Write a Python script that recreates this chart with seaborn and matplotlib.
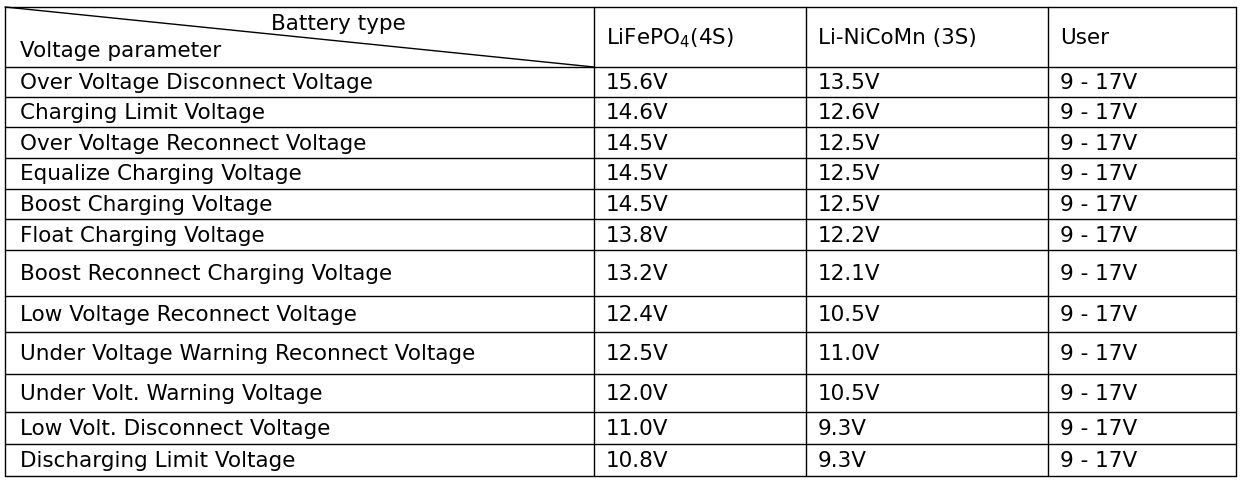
import matplotlib
matplotlib.use("Agg")
import matplotlib.pyplot as plt
import seaborn as sns

sns.set_theme(style="white")
plt.rcParams['font.family'] = ['DejaVu Sans']
plt.rcParams['text.color'] = 'black'

parameters = ["Over Voltage Disconnect Voltage", "Charging Limit Voltage",
              "Over Voltage Reconnect Voltage", "Equalize Charging Voltage",
              "Boost Charging Voltage", "Float Charging Voltage",
              "Boost Reconnect Charging Voltage", "Low Voltage Reconnect Voltage",
              "Under Voltage Warning Reconnect Voltage", "Under Volt. Warning Voltage",
              "Low Volt. Disconnect Voltage", "Discharging Limit Voltage"]
lifepo4 = ["15.6V", "14.6V", "14.5V", "14.5V", "14.5V", "13.8V",
           "13.2V", "12.4V", "12.5V", "12.0V", "11.0V", "10.8V"]
linicomn = ["13.5V", "12.6V", "12.5V", "12.5V", "12.5V", "12.2V",
            "12.1V", "10.5V", "11.0V", "10.5V", "9.3V", "9.3V"]
user = ["9 - 17V"] * 12
headers = ["LiFePO$_4$(4S)", "Li-NiCoMn (3S)", "User"]

W, H = 1241, 480
fig = plt.figure(figsize=(W / 100, H / 100), dpi=100)
ax = fig.add_axes([0, 0, 1, 1])
ax.set_xlim(0, W)
ax.set_ylim(H, 0)
ax.axis("off")

cols = [5, 594, 806, 1048, 1236]
rows = [7, 67, 97, 127, 158, 189, 219, 250, 296, 332, 374, 412, 444, 476]
lw = 1.0
for x in cols:
    ax.plot([x, x], [rows[0], rows[-1]], color="black", lw=lw)
for y in rows:
    ax.plot([cols[0], cols[-1]], [y, y], color="black", lw=lw)
ax.plot([cols[0], cols[1]], [rows[0], rows[1]], color="black", lw=lw)

fs = 15.5
ax.text(338, 24, "Battery type", ha="center", va="center", fontsize=fs, color="black")
ax.text(20, 51, "Voltage parameter", ha="left", va="center", fontsize=fs, color="black")
for i, h in enumerate(headers):
    ax.text(cols[i + 1] + 12, 38, h, ha="left", va="center", fontsize=fs, color="black")

for r in range(len(parameters)):
    yc = (rows[r + 1] + rows[r + 2]) / 2
    vals = [parameters[r], lifepo4[r], linicomn[r], user[r]]
    for c, v in enumerate(vals):
        xoff = 15 if c == 0 else 12
        ax.text(cols[c] + xoff, yc + 1, v, ha="left", va="center", fontsize=fs, color="black")

fig.savefig("out.png", dpi=100, facecolor="white")
